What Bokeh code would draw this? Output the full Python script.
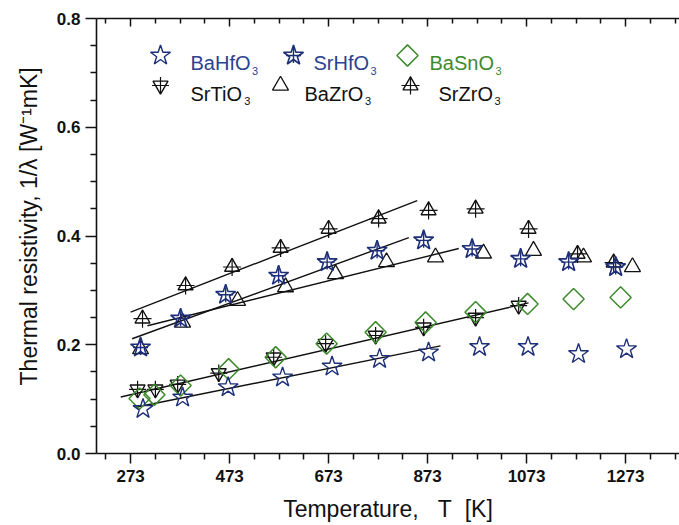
import math
from bokeh.plotting import figure
from bokeh.models import Range1d, FixedTicker, LinearAxis, Label
from bokeh.embed import file_html
from bokeh.resources import INLINE

# ---------------- data ----------------
T_BaHfO3 = [298, 378, 470, 580, 680, 776, 875, 978, 1076, 1178, 1275]
R_BaHfO3 = [0.082, 0.103, 0.122, 0.140, 0.160, 0.174, 0.186, 0.196, 0.196, 0.183, 0.192]

T_SrHfO3 = [293, 374, 465, 572, 670, 771, 865, 963, 1061, 1158, 1253]
R_SrHfO3 = [0.195, 0.248, 0.292, 0.327, 0.352, 0.373, 0.392, 0.376, 0.358, 0.352, 0.343]

T_BaSnO3 = [291, 321, 374, 471, 566, 669, 768, 869, 970, 1075, 1168, 1263]
R_BaSnO3 = [0.101, 0.108, 0.125, 0.155, 0.177, 0.202, 0.223, 0.241, 0.260, 0.275, 0.284, 0.287]

T_SrTiO3 = [287, 323, 368, 451, 562, 667, 768, 865, 970, 1057]
R_SrTiO3 = [0.118, 0.118, 0.127, 0.148, 0.177, 0.202, 0.217, 0.232, 0.250, 0.272]

T_BaZrO3 = [293, 378, 489, 586, 687, 790, 889, 986, 1087, 1188, 1287]
R_BaZrO3 = [0.192, 0.241, 0.281, 0.306, 0.330, 0.352, 0.361, 0.368, 0.373, 0.361, 0.343]

T_SrZrO3 = [297, 384, 478, 576, 673, 774, 875, 970, 1077, 1176, 1249]
R_SrZrO3 = [0.248, 0.309, 0.343, 0.378, 0.413, 0.432, 0.447, 0.450, 0.413, 0.367, 0.351]

# linear fits (end points)
FIT_SrZrO3_T = [273, 852]
FIT_SrZrO3_R = [0.260, 0.465]
FIT_SrHfO3_T = [276, 835]
FIT_SrHfO3_R = [0.211, 0.397]
FIT_BaZrO3_T = [307, 936]
FIT_BaZrO3_R = [0.235, 0.377]
FIT_SrTiO3_T = [253, 1077]
FIT_SrTiO3_R = [0.104, 0.277]
FIT_BaHfO3_T = [283, 899]
FIT_BaHfO3_R = [0.085, 0.198]

X_MAJOR = [273, 473, 673, 873, 1073, 1273]
X_MINOR = [223, 323, 373, 423, 523, 573, 623, 723, 773, 823, 923, 973, 1023,
           1123, 1173, 1223, 1323, 1373]
Y_MAJOR = [0.0, 0.2, 0.4, 0.6, 0.8]
Y_MINOR = [0.05, 0.1, 0.15, 0.25, 0.3, 0.35, 0.45, 0.5, 0.55, 0.65, 0.7, 0.75]

X_TITLE = "Temperature,\u00a0\u00a0\u00a0T\u00a0\u00a0[K]"
Y_TITLE = "\u00a0\u00a0\u00a0Thermal resistivity, 1/\u03bb [W\u207b\u00b9mK]"

NAVY = "#1d2f78"
NAVY_TXT = "#2c4291"
GREEN = "#3d8a2c"
BLACK = "#111111"

FONT = "Liberation Sans"

p = figure(width=679, height=525, output_backend="svg", toolbar_location=None,
           x_range=Range1d(204, 1382), y_range=Range1d(0, 0.8),
           min_border_left=96, min_border_right=0, min_border_top=18,
           min_border_bottom=72, x_axis_location=None, y_axis_location=None)
p.outline_line_color = None
p.grid.visible = False
p.background_fill_color = "white"
p.border_fill_color = "white"

# axes
xax = LinearAxis(ticker=FixedTicker(ticks=X_MAJOR, minor_ticks=X_MINOR))
xax.major_tick_out = 10
xax.major_tick_in = 0
xax.minor_tick_out = 6
xax.minor_tick_in = 0
xax.major_label_text_font = FONT
xax.major_label_text_font_style = "bold"
xax.major_label_text_font_size = "17px"
xax.major_label_text_color = BLACK
xax.major_label_standoff = 6
xax.axis_label = X_TITLE
xax.axis_label_text_font = FONT
xax.axis_label_text_font_style = "normal"
xax.axis_label_text_font_size = "23px"
xax.axis_label_text_color = BLACK
xax.axis_label_standoff = 11
p.add_layout(xax, "below")

xtop = LinearAxis(ticker=FixedTicker(ticks=X_MAJOR, minor_ticks=X_MINOR))
xtop.major_tick_out = 0
xtop.major_tick_in = 8
xtop.minor_tick_out = 0
xtop.minor_tick_in = 5
xtop.major_label_text_color = None
xtop.major_label_text_font_size = "1px"
xtop.major_label_standoff = 0
p.add_layout(xtop, "above")

yax = LinearAxis(ticker=FixedTicker(ticks=Y_MAJOR, minor_ticks=Y_MINOR))
yax.major_tick_out = 11
yax.major_tick_in = 0
yax.minor_tick_out = 6
yax.minor_tick_in = 0
yax.major_label_text_font = FONT
yax.major_label_text_font_style = "bold"
yax.major_label_text_font_size = "17px"
yax.major_label_text_color = BLACK
yax.major_label_standoff = 5
yax.major_label_overrides = {0.0: "0.0", 0.2: "0.2", 0.4: "0.4", 0.6: "0.6", 0.8: "0.8"}
yax.axis_label = Y_TITLE
yax.axis_label_text_font = FONT
yax.axis_label_text_font_style = "normal"
yax.axis_label_text_font_size = "23px"
yax.axis_label_text_color = BLACK
yax.axis_label_standoff = 12
p.add_layout(yax, "left")

for ax in (xax, xtop, yax):
    ax.axis_line_width = 1.6
    ax.axis_line_color = BLACK
    ax.major_tick_line_width = 1.5
    ax.minor_tick_line_width = 1.5
    ax.major_tick_line_color = BLACK
    ax.minor_tick_line_color = BLACK

# fit lines
for ft, fr in [(FIT_SrZrO3_T, FIT_SrZrO3_R), (FIT_SrHfO3_T, FIT_SrHfO3_R),
               (FIT_BaZrO3_T, FIT_BaZrO3_R), (FIT_SrTiO3_T, FIT_SrTiO3_R),
               (FIT_BaHfO3_T, FIT_BaHfO3_R)]:
    p.line(ft, fr, line_color=BLACK, line_width=1.4)

# markers
def draw_series(T, R, kind, color, xr=None, yr=None):
    kw = {}
    if xr:
        kw = dict(x_range_name=xr, y_range_name=yr)
    if kind == "star":
        p.scatter(T, R, marker="star", size=21, fill_color=None, line_color=color, line_width=1.4, **kw)
    elif kind == "starcross":
        p.scatter(T, R, marker="star", size=21, fill_color=None, line_color=color, line_width=1.6, **kw)
        p.scatter(T, R, marker="cross", size=15, line_color=color, line_width=1.4, **kw)
    elif kind == "diamond":
        p.scatter(T, R, marker="square", size=15, angle=math.pi / 4, fill_color=None,
                  line_color=color, line_width=1.5, **kw)
    elif kind == "invtricross":
        p.scatter(T, R, marker="inverted_triangle", size=15, fill_color=None, line_color=color, line_width=1.4, **kw)
        p.scatter(T, R, marker="cross", size=17, line_color=color, line_width=1.2, **kw)
    elif kind == "tri":
        p.scatter(T, R, marker="triangle", size=16, fill_color=None, line_color=color, line_width=1.3, **kw)
    elif kind == "tricross":
        p.scatter(T, R, marker="triangle", size=15, fill_color=None, line_color=color, line_width=1.4, **kw)
        p.scatter(T, R, marker="cross", size=18, line_color=color, line_width=1.2, **kw)

draw_series(T_BaZrO3, R_BaZrO3, "tri", BLACK)
draw_series(T_SrZrO3, R_SrZrO3, "tricross", BLACK)
draw_series(T_SrTiO3, R_SrTiO3, "invtricross", BLACK)
draw_series(T_BaSnO3, R_BaSnO3, "diamond", GREEN)
draw_series(T_BaHfO3, R_BaHfO3, "star", NAVY)
draw_series(T_SrHfO3, R_SrHfO3, "starcross", NAVY)

# ---------------- legend (frame-pixel coordinates) ----------------
p.extra_x_ranges = {"lx": Range1d(0, 583)}
p.extra_y_ranges = {"ly": Range1d(0, 435)}
ARIAL_W = {"B": .667, "a": .556, "H": .722, "f": .278, "O": .778, "S": .667,
           "r": .333, "n": .556, "T": .611, "i": .222, "Z": .611}
LEG_SIZE = 20
legend_items = [
    # name, kind, marker color, text color, marker x, row, text x
    ("BaHfO", "star", NAVY, NAVY_TXT, 64, 0, 94),
    ("SrHfO", "starcross", NAVY, NAVY_TXT, 197, 0, 217),
    ("BaSnO", "diamond", GREEN, GREEN, 311, 0, 333),
    ("SrTiO", "invtricross", BLACK, BLACK, 64, 1, 94),
    ("BaZrO", "tri", BLACK, BLACK, 184, 1, 208),
    ("SrZrO", "tricross", BLACK, BLACK, 314, 1, 342),
]
row_marker_y = [453 - 55, 453 - 85]
row_base_y = [390.5, 360]
for name, kind, mc, tc, mx, row, tx in legend_items:
    draw_series([mx], [row_marker_y[row]], kind, mc, "lx", "ly")
    p.add_layout(Label(x=tx, y=row_base_y[row], x_units="screen", y_units="screen",
                       text=name, text_font=FONT, text_font_size=f"{LEG_SIZE}px",
                       text_color=tc, text_baseline="alphabetic"))
    w = sum(ARIAL_W[c] for c in name) * LEG_SIZE
    p.add_layout(Label(x=tx + w + 1.5, y=row_base_y[row] - 7.5, x_units="screen", y_units="screen",
                       text="3", text_font=FONT, text_font_size="11px",
                       text_color=tc, text_baseline="alphabetic"))

open("out.html", "w").write(file_html(p, INLINE))
